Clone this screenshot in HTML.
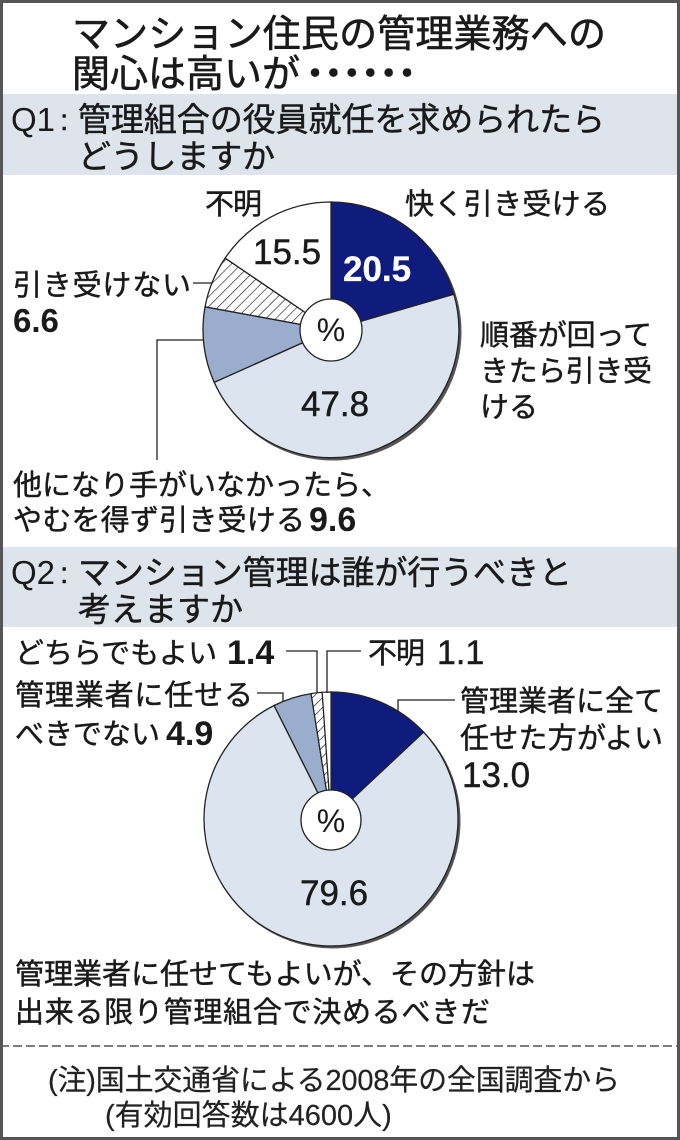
<!DOCTYPE html>
<html><head><meta charset="utf-8"><style>
html,body{margin:0;padding:0;background:#fff;}
svg{display:block;}
text{font-family:"Liberation Sans","Noto Sans CJK JP",sans-serif;fill:#1a1a1a;stroke:#1a1a1a;stroke-width:0.45px;}
.dots{font-family:"Noto Sans CJK JP",sans-serif;}
.nb{stroke-width:0;}
</style></head><body>
<svg width="680" height="1140" viewBox="0 0 680 1140" xmlns="http://www.w3.org/2000/svg">
<defs>
<pattern id="h" patternUnits="userSpaceOnUse" width="7" height="7" patternTransform="rotate(45)">
<rect width="7" height="7" fill="#fff"/>
<line x1="0" y1="0" x2="0" y2="7" stroke="#111" stroke-width="1.2"/>
</pattern>
</defs>
<rect x="0" y="0" width="680" height="1140" fill="#fff"/>
<!-- bands -->
<rect x="0" y="94" width="680" height="81" fill="#dde4ec"/>
<rect x="0" y="547" width="680" height="80" fill="#dde4ec"/>
<!-- title -->
<text x="72" y="47" font-size="38" textLength="534" style="stroke-width:0.6px">マンション住民の管理業務への</text>
<text x="72" y="87" font-size="38" textLength="228" style="stroke-width:0.6px">関心は高いが</text>
<text class="dots" x="296" y="87" font-size="38" textLength="130" style="stroke-width:0.5px">・・・・・・</text>
<!-- Q1 header -->
<text x="11" y="131" font-size="33" class="nb">Q1</text>
<text x="60" y="130" font-size="30">:</text>
<text x="78" y="131" font-size="33" textLength="527">管理組合の役員就任を求められたら</text>
<text x="78" y="168" font-size="33" textLength="197">どうしますか</text>

<!-- Q1 pie -->
<circle cx="333" cy="332" r="128.5" fill="#555"/>
<path d="M331,330 L331,202 A128,128 0 0 1 453.9,294.3 Z" fill="#0f1c7e" stroke="#222" stroke-width="1.3"/>
<path d="M331,330 L453.9,294.3 A128,128 0 0 1 214.2,382.3 Z" fill="#dce4ef" stroke="#222" stroke-width="1.3"/>
<path d="M331,330 L214.2,382.3 A128,128 0 0 1 205.1,306.8 Z" fill="#9aadcc" stroke="#222" stroke-width="1.3"/>
<path d="M331,330 L205.1,306.8 A128,128 0 0 1 225.1,258.1 Z" fill="url(#h)" stroke="#222" stroke-width="1.3"/>
<path d="M331,330 L225.1,258.1 A128,128 0 0 1 331,202 Z" fill="#fff" stroke="#222" stroke-width="1.3"/>
<circle cx="331" cy="330" r="31" fill="#fff" stroke="#222" stroke-width="1.3"/>
<text x="331" y="341" font-size="32" text-anchor="middle" class="nb">%</text>
<text x="253" y="264" font-size="35">15.5</text>
<text x="343" y="281" font-size="35" font-weight="bold" style="fill:#fff;stroke:#fff;stroke-width:0.3px">20.5</text>
<text x="301" y="416" font-size="35">47.8</text>

<!-- Q1 labels -->
<text x="205" y="214" font-size="29" textLength="57">不明</text>
<text x="405" y="214" font-size="29" textLength="205">快く引き受ける</text>
<text x="13" y="295" font-size="29" textLength="178">引き受けない</text>
<line x1="193" y1="283" x2="212" y2="283" stroke="#222" stroke-width="1.3"/>
<text x="13" y="332" font-size="33" font-weight="bold" class="nb">6.6</text>
<text x="480" y="345" font-size="29" textLength="172">順番が回って</text>
<text x="480" y="381" font-size="29" textLength="172">きたら引き受</text>
<text x="480" y="417" font-size="29">ける</text>
<polyline points="204,340 157,340 157,460" fill="none" stroke="#222" stroke-width="1.3"/>
<text x="13" y="495" font-size="29">他になり手がいなかったら、</text>
<text x="13" y="530" font-size="29" textLength="292">やむを得ず引き受ける</text>
<text x="309" y="531" font-size="34" font-weight="bold" class="nb">9.6</text>

<!-- Q2 header -->
<text x="11" y="584" font-size="33" class="nb">Q2</text>
<text x="60" y="583" font-size="30">:</text>
<text x="78" y="584" font-size="33" textLength="494">マンション管理は誰が行うべきと</text>
<text x="78" y="621" font-size="33" textLength="165">考えますか</text>

<!-- Q2 pie -->
<circle cx="333" cy="821" r="127.5" fill="#555"/>
<path d="M331,819 L331,692 A127,127 0 0 1 423.6,732.1 Z" fill="#0f1c7e" stroke="#222" stroke-width="1.3"/>
<path d="M331,819 L423.6,732.1 A127,127 0 1 1 274.1,705.5 Z" fill="#dce4ef" stroke="#222" stroke-width="1.3"/>
<path d="M331,819 L274.1,705.5 A127,127 0 0 1 311.1,693.6 Z" fill="#9aadcc" stroke="#222" stroke-width="1.3"/>
<path d="M331,819 L311.1,693.6 A127,127 0 0 1 322.2,692.3 Z" fill="url(#h)" stroke="#222" stroke-width="1.2"/>
<path d="M331,819 L322.2,692.3 A127,127 0 0 1 331,692 Z" fill="#fff" stroke="#222" stroke-width="1.2"/>
<circle cx="331" cy="820" r="30" fill="#fff" stroke="#222" stroke-width="1.3"/>
<text x="331" y="832" font-size="32" text-anchor="middle" class="nb">%</text>
<text x="300" y="905" font-size="35">79.6</text>

<!-- Q2 labels -->
<text x="15" y="663" font-size="29">どちらでもよい</text>
<text x="227" y="664" font-size="34" font-weight="bold" class="nb">1.4</text>
<polyline points="286,651 317,651 317,693" fill="none" stroke="#222" stroke-width="1.3"/>
<polyline points="327,693 327,651 361,651" fill="none" stroke="#222" stroke-width="1.3"/>
<text x="368" y="663" font-size="29" textLength="57">不明</text>
<text x="437" y="664" font-size="34">1.1</text>
<text x="15" y="705" font-size="29" textLength="238">管理業者に任せる</text>
<polyline points="257,693 283,693 283,702" fill="none" stroke="#222" stroke-width="1.3"/>
<text x="15" y="744" font-size="29">べきでない</text>
<text x="166" y="745" font-size="34" font-weight="bold" class="nb">4.9</text>
<polyline points="398,711 398,700 455,700" fill="none" stroke="#222" stroke-width="1.3"/>
<text x="460" y="711" font-size="29" textLength="203">管理業者に全て</text>
<text x="460" y="748" font-size="29" textLength="203">任せた方がよい</text>
<text x="462" y="787" font-size="35">13.0</text>
<text x="15" y="984" font-size="29" textLength="520">管理業者に任せてもよいが、その方針は</text>
<text x="15" y="1022" font-size="29" textLength="475">出来る限り管理組合で決めるべきだ</text>

<!-- dashed separator -->
<line x1="0" y1="1046" x2="680" y2="1046" stroke="#555" stroke-width="1.5" stroke-dasharray="9 4"/>
<!-- footer -->
<text x="48" y="1090" font-size="29" textLength="572" style="fill:#222;stroke-width:0.2px">(注)国土交通省による2008年の全国調査から</text>
<text x="105" y="1125" font-size="29" style="fill:#222;stroke-width:0.2px">(有効回答数は4600人)</text>

<!-- frame -->
<rect x="1.5" y="1.5" width="677" height="1137" fill="none" stroke="#555" stroke-width="3"/>
</svg>
</body></html>
